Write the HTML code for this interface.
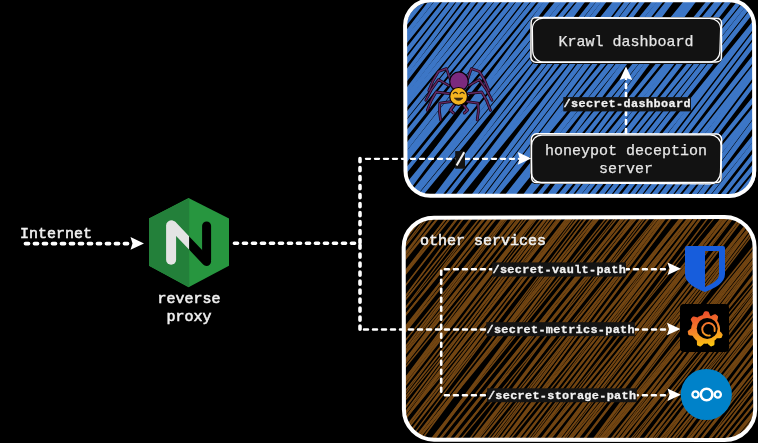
<!DOCTYPE html>
<html><head><meta charset="utf-8"><style>
html,body{margin:0;padding:0;background:#000;width:758px;height:443px;overflow:hidden}
</style></head><body>
<svg width="758" height="443" viewBox="0 0 758 443" style="display:block;will-change:transform"><defs><clipPath id="cb"><path d="M431.5,2.0 L728.5,2.0 C742.3,2.0 753.5,13.2 753.5,27.0 L753.5,170.3 C753.5,184.1 742.3,195.3 728.5,195.3 L431.5,195.3 C417.7,195.3 406.5,184.1 406.5,170.3 L406.5,27.0 C406.5,13.2 417.7,2.0 431.5,2.0 Z"/></clipPath><clipPath id="cr"><path d="M435.3,217.8 L723.5,217.8 C740.1,217.8 753.5,231.2 753.5,247.8 L753.5,409.0 C753.5,425.6 740.1,439.0 723.5,439.0 L435.3,439.0 C418.7,439.0 405.3,425.6 405.3,409.0 L405.3,247.8 C405.3,231.2 418.7,217.8 435.3,217.8 Z"/></clipPath><clipPath id="nl"><rect x="140" y="190" width="49.2" height="100"/></clipPath><clipPath id="nr"><rect x="189.2" y="190" width="50" height="100"/></clipPath><linearGradient id="gg" gradientUnits="userSpaceOnUse" x1="700" y1="312" x2="708" y2="348"><stop offset="0" stop-color="#EB4A2B"/><stop offset="0.5" stop-color="#F5852A"/><stop offset="1" stop-color="#FBCD0D"/></linearGradient></defs><rect width="758" height="443" fill="#000"/><g clip-path="url(#cb)" fill="none" stroke="#3c76c6" opacity="1.0"><path d="M282.6,132.3Q414.0,-33.7 546.4,-198.9M397.8,222.6Q532.2,59.1 667.1,-104.1M421.3,243.9Q549.3,75.3 676.1,-94.1M470.9,281.9Q601.2,115.1 731.9,-51.4M477.2,287.6Q610.9,123.5 743.6,-41.4M490.3,296.9Q620.8,130.2 750.1,-37.4M556.4,345.8Q683.7,176.6 811.1,7.5M573.5,363.8Q705.5,198.3 837.0,32.4" stroke-width="4.2"/><path d="M287.3,136.6Q418.2,-29.8 550.3,-195.2M291.2,135.7Q425.6,-27.8 559.3,-192.0M302.6,156.3Q428.4,-14.0 554.8,-183.8M329.7,176.4Q456.1,6.6 581.9,-163.7M354.1,188.0Q487.7,23.7 620.5,-141.1M409.3,233.3Q541.4,67.9 672.3,-98.5M414.3,237.6Q544.6,70.8 675.2,-95.8M531.5,327.4Q659.0,158.4 787.2,-10.1M553.2,348.5Q686.2,183.8 818.4,18.5M585.3,371.1Q715.9,204.5 845.8,37.4" stroke-width="4.1"/><path d="M296.1,141.7Q428.9,-23.1 561.5,-188.1M313.3,155.4Q446.0,-9.6 579.1,-174.2M344.6,179.3Q479.3,16.1 612.9,-148.2M385.9,218.0Q512.4,48.2 638.6,-121.8M431.6,251.8Q558.6,82.4 685.9,-86.7M462.4,275.8Q596.7,112.1 730.3,-52.1M596.4,385.6Q730.0,221.4 864.7,58.1" stroke-width="4.8"/><path d="M304.5,147.2Q437.7,-17.3 571.8,-181.2M310.5,158.2Q439.0,-10.0 568.7,-177.3M319.0,162.7Q450.0,-3.6 580.5,-170.3M338.6,182.1Q465.8,12.8 592.7,-156.6M369.1,201.8Q500.8,36.0 631.3,-130.7" stroke-width="4.4"/><path d="M323.9,167.8Q453.9,0.8 583.3,-166.8M435.6,254.6Q563.3,85.8 691.5,-82.7M514.2,315.7Q643.9,148.4 774.8,-17.9M535.9,330.7Q664.1,162.3 791.7,-6.6M541.8,337.6Q673.1,171.6 803.3,4.7" stroke-width="4.6"/><path d="M332.2,173.5Q463.0,7.0 593.1,-160.0M377.0,207.1Q509.2,41.8 641.8,-123.3M515.3,318.4Q648.0,153.4 781.4,-10.9" stroke-width="4.0"/><path d="M341.7,180.6Q472.4,14.0 603.1,-152.5M464.8,276.7Q591.8,107.3 718.4,-62.3M482.3,291.9Q615.9,127.7 749.1,-36.9M577.7,360.2Q703.6,190.1 829.7,20.0M609.9,388.7Q739.5,221.3 868.2,53.2" stroke-width="5.0"/><path d="M350.5,186.0Q482.1,20.2 614.9,-144.7M359.3,192.8Q491.3,27.3 624.3,-137.4M391.9,219.7Q523.3,53.7 654.4,-112.5M480.4,288.2Q607.2,118.7 732.8,-51.7M501.7,307.1Q634.7,142.3 766.6,-23.2M580.5,366.9Q710.2,199.6 840.2,32.6M589.2,378.8Q723.1,214.9 856.3,50.3M617.8,391.7Q745.0,222.5 872.1,53.1" stroke-width="4.5"/><path d="M365.4,199.8Q495.7,33.0 625.1,-134.5M385.4,212.7Q520.0,49.3 653.8,-114.8M451.7,266.9Q583.0,100.9 713.2,-66.0M495.2,300.8Q625.7,134.1 755.4,-33.2M551.9,342.0Q679.0,172.7 805.9,3.3M593.6,382.1Q727.2,217.9 860.4,53.4" stroke-width="5.1"/><path d="M371.7,202.3Q504.8,37.7 638.0,-126.9M394.1,219.9Q528.0,55.9 662.2,-107.8M444.6,261.5Q572.6,92.9 701.0,-75.4M442.6,259.6Q577.2,96.2 711.4,-67.5M453.6,268.5Q586.0,103.4 719.2,-61.2M496.6,303.2Q629.2,138.1 762.3,-26.4M573.2,357.1Q699.2,187.1 825.6,17.2M583.9,374.8Q718.0,211.0 851.4,46.6" stroke-width="4.3"/><path d="M407.9,234.0Q534.6,64.5 662.0,-104.6M420.8,241.9Q554.2,77.6 687.6,-86.8M508.9,311.8Q639.5,145.2 770.3,-21.2M525.9,323.5Q654.3,155.2 782.6,-13.2M536.9,333.9Q667.7,167.4 798.5,1.0" stroke-width="4.7"/><path d="M440.4,258.3Q568.4,89.7 695.6,-79.5" stroke-width="5.2"/><path d="M557.1,352.4Q689.9,187.6 823.7,23.6" stroke-width="4.9"/></g><path d="M430.3,0.2 L729.5,0.3 C743.3,0.3 754.1,11.8 754.1,25.6 L754.2,171.0 C754.2,184.8 743.3,195.9 729.5,195.9 L430.3,195.8 C416.5,195.8 405.5,184.8 405.5,171.0 L405.1,25.6 C405.1,11.8 416.5,0.2 430.3,0.2 Z" fill="none" stroke="#fff" stroke-width="4.0" stroke-linecap="round" stroke-linejoin="round"/><path d="M430.2,1.3 L729.9,0.9 C743.7,0.9 754.9,12.2 754.9,26.0 L755.3,170.9 C755.3,184.7 743.7,195.8 729.9,195.8 L430.2,195.9 C416.4,195.9 405.4,184.7 405.4,170.9 L405.7,26.0 C405.7,12.2 416.4,1.3 430.2,1.3 Z" fill="none" stroke="#fff" stroke-width="1.6" stroke-linecap="round" stroke-linejoin="round"/><g clip-path="url(#cr)" fill="none" stroke="#724512" opacity="1.0"><path d="M269.2,359.7Q408.3,188.6 548.5,18.3M286.5,374.9Q424.8,203.1 564.4,32.4M299.5,391.2Q433.3,215.9 568.7,41.9M300.1,393.8Q433.2,217.9 566.2,42.0M301.1,385.7Q440.1,214.5 580.5,44.4M301.6,388.5Q439.9,216.7 577.4,44.3M308.9,394.3Q447.0,222.3 584.9,50.2M376.0,452.0Q508.1,275.5 639.4,98.3M379.3,452.8Q513.1,277.5 648.3,103.3M388.5,461.4Q519.3,283.9 651.6,107.4M385.5,456.9Q520.9,282.9 657.1,109.4M388.5,458.8Q525.4,286.0 661.5,112.4M396.8,465.4Q532.8,291.8 669.9,119.1M406.2,474.5Q538.3,297.9 669.8,120.9M419.9,483.3Q557.5,310.9 695.8,139.1M443.0,501.9Q577.4,327.0 711.4,151.8M459.7,514.8Q593.8,339.7 729.5,165.8M457.1,513.0Q594.1,340.2 731.8,167.9M510.3,551.8Q641.0,374.2 772.7,197.3M546.4,579.0Q678.8,402.6 809.9,225.3M554.2,585.6Q687.2,409.7 819.4,233.2M550.1,587.0Q687.9,414.8 824.7,241.8M566.4,596.2Q700.3,421.1 834.4,246.0M568.2,596.2Q700.7,419.9 833.5,243.8M563.0,600.4Q703.2,430.1 842.8,259.4M585.9,615.3Q722.6,442.3 860.2,269.9M594.4,623.8Q732.2,451.6 871.1,280.4" stroke-width="1.8"/><path d="M270.4,360.8Q410.2,190.3 549.4,19.3M292.5,388.1Q426.1,212.6 558.4,36.2M329.2,408.0Q468.8,237.4 609.7,67.7M373.4,450.0Q506.0,273.8 637.1,96.5M415.9,480.4Q551.7,306.7 689.1,134.1M418.9,482.0Q559.4,312.0 699.4,141.6M433.1,494.5Q565.7,318.2 698.8,142.4M431.2,492.5Q567.8,319.3 705.3,146.9M479.0,530.0Q614.4,355.9 750.8,182.6M487.0,535.0Q619.2,358.5 752.2,182.6M496.6,542.6Q629.5,366.6 763.4,191.3M502.3,547.0Q635.2,371.1 769.6,196.2M508.9,555.2Q647.7,383.8 786.4,212.4M518.7,561.9Q655.3,388.7 792.8,216.3M518.6,563.8Q658.6,393.5 798.3,222.8M571.6,607.5Q711.8,437.2 851.5,266.6M585.6,618.3Q724.3,446.8 864.6,276.6M588.8,619.5Q726.5,447.2 865.8,276.2M595.2,620.8Q731.0,447.1 866.9,273.4M593.1,621.0Q731.0,448.9 867.4,275.7M604.7,632.9Q743.9,461.9 882.4,290.3M611.7,634.5Q747.4,460.7 884.3,287.8M618.1,635.7Q751.5,460.1 885.9,285.3" stroke-width="1.9"/><path d="M272.8,365.1Q410.4,192.7 549.0,21.2M274.1,369.1Q411.1,196.3 546.7,22.3M314.8,403.6Q448.9,228.5 583.1,53.5M328.8,409.1Q468.3,238.3 606.8,66.7M354.5,429.6Q493.6,258.4 633.4,87.9M379.6,449.7Q520.5,280.0 660.0,109.2M405.4,472.1Q541.6,298.6 679.3,126.3M421.2,485.6Q554.1,309.6 685.5,132.5M446.6,504.6Q579.0,328.3 711.9,152.2M469.4,521.6Q600.8,344.5 732.6,167.7M472.1,525.5Q611.8,354.8 750.1,183.0M525.1,564.0Q658.3,388.2 791.2,212.3M554.9,587.3Q688.7,412.0 822.6,236.8M556.7,590.5Q693.0,417.1 827.9,242.6M563.7,592.4Q696.7,416.5 828.3,239.5M567.2,598.1Q702.5,424.0 837.5,249.6M574.7,600.1Q705.8,422.8 838.4,246.6M583.2,609.9Q717.2,434.7 852.4,260.4M581.1,612.6Q718.9,440.4 857.1,268.5M611.5,637.1Q749.0,464.7 887.6,293.1" stroke-width="1.4"/><path d="M276.1,367.8Q413.9,195.6 552.2,23.9M334.8,416.3Q471.4,243.1 608.3,70.3M350.9,431.7Q484.7,256.4 618.0,80.8M360.8,436.0Q498.6,263.9 636.4,91.7M397.1,464.8Q534.7,292.5 673.8,121.4M436.0,496.2Q574.1,324.3 710.7,151.2M449.6,507.1Q588.8,336.1 726.7,164.0M471.4,523.3Q603.4,346.6 736.3,170.6M581.7,612.3Q719.7,440.2 856.5,267.3" stroke-width="2.1"/><path d="M275.9,364.1Q416.2,194.0 556.4,23.8M307.5,395.9Q443.6,222.4 579.2,48.4M320.2,410.8Q451.2,233.4 583.2,56.7M341.3,419.7Q480.5,248.6 618.5,76.6M352.7,431.7Q487.4,257.1 623.2,83.3M359.6,440.2Q490.3,262.6 622.0,85.7M365.9,440.9Q503.1,268.3 639.3,94.8M397.4,464.5Q537.7,294.4 676.9,123.3M406.2,472.4Q543.4,299.7 681.7,128.0M410.0,475.2Q548.9,303.9 686.8,131.8M414.4,478.7Q552.2,306.6 691.5,135.6M430.1,492.3Q561.6,315.3 693.3,138.4M453.1,510.0Q591.0,337.8 729.8,166.4M466.3,519.7Q600.0,344.3 734.3,169.3M475.3,526.3Q608.1,350.2 741.0,174.2M486.0,534.0Q618.0,357.4 749.7,180.4M491.7,539.5Q626.6,365.1 761.7,190.8M500.5,546.7Q635.7,372.5 772.0,199.1M541.0,576.2Q673.4,399.8 807.4,224.6M581.0,615.2Q721.4,445.2 861.0,274.4M604.8,626.5Q739.3,451.7 874.0,277.2" stroke-width="1.5"/><path d="M279.3,374.0Q414.4,199.6 550.7,26.3M278.6,372.0Q414.9,198.6 551.9,25.8M320.4,410.6Q452.7,234.2 584.0,56.9M325.7,405.4Q465.7,235.0 605.8,64.7M336.7,416.7Q475.0,245.0 612.3,72.4M347.1,428.7Q480.8,253.3 614.7,78.0M367.0,444.9Q499.7,268.7 631.7,92.1M377.1,450.7Q512.0,276.2 647.7,102.4M411.0,476.7Q547.2,303.2 683.8,130.1M468.0,522.1Q607.0,350.9 745.6,179.3M490.2,537.7Q623.0,361.7 757.0,186.5M524.4,568.8Q663.9,398.0 804.6,228.2M547.3,581.0Q681.2,405.7 813.8,229.5" stroke-width="1.1"/><path d="M283.2,378.1Q418.5,203.9 553.2,29.4M290.4,377.9Q430.0,207.2 568.5,35.5M347.8,424.5Q486.7,253.1 626.1,82.3M359.6,436.1Q495.9,262.7 632.8,89.8M399.3,469.4Q530.5,292.1 662.5,115.5M450.0,507.1Q581.7,330.3 712.5,152.7M464.2,517.9Q596.6,341.6 730.3,166.2M482.6,533.1Q618.7,359.6 756.0,187.0M495.6,543.2Q632.2,370.0 768.3,196.5M510.4,552.0Q642.4,375.3 773.1,197.6M507.4,554.1Q646.0,382.5 785.4,211.7M507.7,553.7Q644.9,381.0 783.5,209.5M534.3,572.3Q669.7,398.1 803.6,222.9M535.0,577.4Q674.5,406.5 814.8,236.4" stroke-width="1.6"/><path d="M282.9,379.6Q416.4,204.1 550.5,29.0M288.4,385.4Q421.4,209.5 553.8,33.1M335.8,420.0Q469.4,244.6 603.4,69.4M337.0,417.1Q474.3,244.5 612.4,72.6M351.5,428.0Q489.5,256.0 628.3,84.7M361.2,438.4Q496.2,264.0 631.5,89.9M363.0,440.2Q497.2,265.2 632.2,90.8M383.8,456.3Q517.8,281.2 652.7,106.7M407.3,475.5Q538.0,297.9 669.7,121.0M414.5,478.5Q554.6,308.2 693.9,137.3M452.1,508.8Q584.4,332.3 717.4,156.4M451.0,508.2Q587.6,335.0 724.9,162.4M475.3,528.1Q614.4,357.0 753.5,185.9M488.3,536.4Q622.1,361.1 755.7,185.7M509.1,552.0Q642.0,376.0 775.4,200.3M509.8,556.0Q649.3,385.1 787.5,213.3M515.7,559.5Q652.9,386.8 789.8,214.0M526.3,566.8Q661.6,392.6 797.6,219.1M541.9,582.9Q682.1,412.7 821.6,241.9M551.4,589.1Q689.3,417.1 828.0,245.6M562.8,593.0Q696.1,417.3 829.9,242.0M560.2,597.6Q699.0,426.3 839.3,256.1M577.1,603.1Q710.5,427.5 842.8,251.0M602.0,629.3Q739.8,457.0 877.9,285.1M611.4,633.9Q747.0,460.0 883.6,286.9" stroke-width="2.0"/><path d="M295.0,388.6Q428.4,213.0 563.0,38.3M329.3,415.0Q463.2,239.8 597.2,64.6M370.6,442.8Q510.2,272.1 649.2,100.9M391.6,463.6Q523.3,286.7 655.4,110.1M394.5,464.0Q530.0,289.9 666.0,116.4M395.4,466.0Q528.6,290.2 661.1,113.9M422.7,485.2Q563.5,315.4 702.9,144.5M434.4,495.6Q566.7,319.1 698.1,142.0M434.6,495.5Q567.3,319.3 701.5,144.3M440.1,499.6Q576.6,326.3 712.7,152.8M445.0,503.4Q578.2,327.6 712.2,152.5M469.4,522.0Q603.7,347.1 736.7,171.2M484.6,533.3Q617.0,356.9 750.3,181.2M510.4,553.1Q643.4,377.2 777.2,201.9M529.1,570.1Q666.3,397.4 803.2,224.6M539.0,579.8Q678.1,408.6 817.1,237.4M551.2,583.6Q683.8,407.4 817.0,231.6M548.2,584.5Q684.0,410.7 820.7,237.6M585.5,610.1Q718.8,434.5 852.3,259.0M611.7,628.4Q744.0,451.9 876.2,275.4" stroke-width="1.3"/><path d="M295.5,384.9Q432.7,212.1 569.6,39.3M308.1,390.8Q448.5,220.7 588.4,50.3M314.7,401.2Q450.3,227.3 586.9,54.1M325.8,414.8Q457.5,237.9 589.1,60.9M434.0,494.6Q571.9,322.5 709.8,150.4M454.4,510.4Q586.1,333.5 716.9,155.9M461.0,515.3Q592.8,338.6 724.3,161.5M492.6,542.3Q631.3,370.8 771.3,200.4M522.9,561.8Q655.4,385.5 787.5,208.9M521.3,566.2Q661.1,395.7 801.2,225.3M529.4,571.2Q667.7,399.5 805.6,227.4M583.7,606.7Q714.8,429.3 847.1,252.9M601.5,623.9Q736.3,449.4 870.6,274.4M609.8,626.9Q741.3,449.8 874.2,273.8" stroke-width="1.2"/><path d="M308.8,400.0Q441.4,223.8 575.5,48.7M321.4,403.9Q459.9,232.2 598.2,60.4M344.3,427.4Q477.9,251.9 610.2,75.4M346.4,428.5Q479.2,252.4 613.4,77.3M368.9,443.8Q504.8,270.1 641.0,96.6M378.6,453.9Q509.9,276.7 642.4,100.4M379.1,452.0Q514.2,277.7 650.2,104.1M449.2,506.5Q581.2,329.9 713.7,153.6M461.3,516.3Q597.4,342.8 734.8,170.2M471.3,524.9Q610.8,354.1 750.2,183.3M490.6,538.8Q625.8,364.6 761.3,190.6M488.5,539.3Q628.1,368.6 768.6,198.6M530.9,567.1Q662.0,389.8 793.6,212.8M539.4,576.0Q674.1,401.4 808.3,226.4M566.8,603.2Q707.0,433.0 846.2,261.9M613.6,631.5Q746.8,455.8 880.5,280.4" stroke-width="1.7"/></g><path d="M434.0,217.7 L724.7,216.9 C741.3,216.9 754.6,230.7 754.6,247.3 L755.2,409.6 C755.2,426.2 741.3,439.9 724.7,439.9 L434.0,439.8 C417.4,439.8 403.9,426.2 403.9,409.6 L403.7,247.3 C403.7,230.7 417.4,217.7 434.0,217.7 Z" fill="none" stroke="#fff" stroke-width="4.0" stroke-linecap="round" stroke-linejoin="round"/><path d="M434.3,217.0 L724.5,216.8 C741.0,216.8 754.7,230.4 754.7,246.9 L754.9,409.6 C754.9,426.2 741.0,439.6 724.5,439.6 L434.3,439.7 C417.7,439.7 404.5,426.2 404.5,409.6 L404.2,246.9 C404.2,230.4 417.7,217.0 434.3,217.0 Z" fill="none" stroke="#fff" stroke-width="1.6" stroke-linecap="round" stroke-linejoin="round"/><path d="M536.0,17.0 L716.0,17.0 C719.3,17.0 722.0,19.7 722.0,23.0 L722.0,58.0 C722.0,61.3 719.3,64.0 716.0,64.0 L536.0,64.0 C532.7,64.0 530.0,61.3 530.0,58.0 L530.0,23.0 C530.0,19.7 532.7,17.0 536.0,17.0 Z" fill="#121212"/><path d="M535.9,17.6 L716.2,18.2 C719.0,18.2 721.5,19.9 721.5,22.7 L721.4,57.4 C721.4,60.1 719.0,62.0 716.2,62.0 L535.9,62.2 C533.2,62.2 530.9,60.1 530.9,57.4 L531.1,22.7 C531.1,19.9 533.2,17.6 535.9,17.6 Z" fill="none" stroke="#fff" stroke-width="1.5" stroke-linejoin="round"/><path d="M543.4,18.2 L709.6,18.5 C715.7,18.5 720.6,22.6 720.6,28.7 L719.9,50.9 C719.9,57.0 715.7,62.0 709.6,62.0 L543.4,62.0 C537.3,62.0 532.7,57.0 532.7,50.9 L532.4,28.7 C532.4,22.6 537.3,18.2 543.4,18.2 Z" fill="none" stroke="#fff" stroke-width="1.2" stroke-linejoin="round"/><path d="M536.0,134.0 L716.0,134.0 C719.3,134.0 722.0,136.7 722.0,140.0 L722.0,178.0 C722.0,181.3 719.3,184.0 716.0,184.0 L536.0,184.0 C532.7,184.0 530.0,181.3 530.0,178.0 L530.0,140.0 C530.0,136.7 532.7,134.0 536.0,134.0 Z" fill="#121212"/><path d="M536.4,133.7 L716.8,134.0 C719.5,134.0 721.6,136.6 721.6,139.4 L721.0,177.8 C721.0,180.5 719.5,182.6 716.8,182.6 L536.4,182.6 C533.7,182.6 531.7,180.5 531.7,177.8 L531.2,139.4 C531.2,136.6 533.7,133.7 536.4,133.7 Z" fill="none" stroke="#fff" stroke-width="1.5" stroke-linejoin="round"/><path d="M542.0,135.1 L710.0,134.8 C716.1,134.8 721.1,139.8 721.1,145.8 L720.5,172.1 C720.5,178.1 716.1,183.9 710.0,183.9 L542.0,182.8 C535.9,182.8 531.2,178.1 531.2,172.1 L531.6,145.8 C531.6,139.8 535.9,135.1 542.0,135.1 Z" fill="none" stroke="#fff" stroke-width="1.2" stroke-linejoin="round"/><text x="626" y="46" style="font-family:'Liberation Mono',monospace;font-size:15px;font-weight:normal" fill="#e6e6e6" stroke="#e6e6e6" stroke-width="0.25" text-anchor="middle">Krawl dashboard</text><text x="626" y="155" style="font-family:'Liberation Mono',monospace;font-size:15px;font-weight:normal" fill="#e6e6e6" stroke="#e6e6e6" stroke-width="0.25" text-anchor="middle">honeypot deception</text><text x="626" y="173" style="font-family:'Liberation Mono',monospace;font-size:15px;font-weight:normal" fill="#e6e6e6" stroke="#e6e6e6" stroke-width="0.25" text-anchor="middle">server</text><path d="M24,243.6 L131,243.6" fill="none" stroke="#fff" stroke-width="3.8" stroke-dasharray="2.96 6.04" stroke-dashoffset="-1.52" stroke-linecap="round"/><path d="M144,243.4 L130.5,237.1 L132.5,243.4 L130.5,249.70000000000002 Z" fill="#fff"/><path d="M233,243.3 L358,243.3" fill="none" stroke="#fff" stroke-width="3.6" stroke-dasharray="3.12 5.88" stroke-dashoffset="-1.44" stroke-linecap="round"/><path d="M360,157.2 L360,246" fill="none" stroke="#fff" stroke-width="3.6" stroke-dasharray="3.12 5.88" stroke-dashoffset="-1.44" stroke-linecap="round"/><path d="M360,243.6 L360,330" fill="none" stroke="#fff" stroke-width="3.6" stroke-dasharray="3.12 5.88" stroke-dashoffset="-1.44" stroke-linecap="round"/><path d="M365,158.8 L522,158.8" fill="none" stroke="#fff" stroke-width="2.3" stroke-dasharray="4.16 4.84" stroke-dashoffset="-0.92" stroke-linecap="round"/><path d="M531.2,158.4 L517.7,152.1 L519.7,158.4 L517.7,164.70000000000002 Z" fill="#fff"/><path d="M363,329.5 L670,329.5" fill="none" stroke="#fff" stroke-width="2.6" stroke-dasharray="3.92 5.08" stroke-dashoffset="-1.04" stroke-linecap="round"/><path d="M680.5,329 L667.0,322.7 L669.0,329 L667.0,335.3 Z" fill="#fff"/><path d="M626,134 L626,76" fill="none" stroke="#fff" stroke-width="2.6" stroke-dasharray="3.92 5.08" stroke-dashoffset="-1.04" stroke-linecap="round"/><path d="M626,66.5 L619.7,80.0 L626,78.0 L632.3,80.0 Z" fill="#fff"/><path d="M441.2,269.8 L441.2,395.5" fill="none" stroke="#fff" stroke-width="2.6" stroke-dasharray="3.92 5.08" stroke-dashoffset="-1.04" stroke-linecap="round"/><path d="M443.9,269.3 L669,269.3" fill="none" stroke="#fff" stroke-width="2.4" stroke-dasharray="4.08 4.92" stroke-dashoffset="-0.96" stroke-linecap="round"/><path d="M681,268.7 L667.5,262.4 L669.5,268.7 L667.5,275.0 Z" fill="#fff"/><path d="M443.9,395.2 L669,395.2" fill="none" stroke="#fff" stroke-width="2.4" stroke-dasharray="4.08 4.92" stroke-dashoffset="-0.96" stroke-linecap="round"/><path d="M681,394.8 L667.5,388.5 L669.5,394.8 L667.5,401.1 Z" fill="#fff"/><rect x="563.3" y="97.1" width="127.7" height="14.3" fill="#141414"/><text x="627.36" y="107.10" style="font-family:'Liberation Mono',monospace;font-size:11.8px;font-weight:bold;letter-spacing:0.42px" fill="#f2f2f2" stroke="#f2f2f2" stroke-width="0.3" text-anchor="middle">/secret-dashboard</text><rect x="455.2" y="151.1" width="9.8" height="17.6" fill="#141414"/><path d="M456.6,165.4 L464.2,152.2" stroke="#f2f2f2" stroke-width="2.1" stroke-linecap="butt"/><rect x="492.3" y="262.4" width="133.7" height="14.2" fill="#141414"/><text x="559.32" y="273.00" style="font-family:'Liberation Mono',monospace;font-size:11.8px;font-weight:bold;letter-spacing:0.34px" fill="#f2f2f2" stroke="#f2f2f2" stroke-width="0.3" text-anchor="middle">/secret-vault-path</text><rect x="486.3" y="322.2" width="148.5" height="14.0" fill="#141414"/><text x="560.72" y="332.60" style="font-family:'Liberation Mono',monospace;font-size:11.8px;font-weight:bold;letter-spacing:0.34px" fill="#f2f2f2" stroke="#f2f2f2" stroke-width="0.3" text-anchor="middle">/secret-metrics-path</text><rect x="487.1" y="388.3" width="149.7" height="13.9" fill="#141414"/><text x="562.12" y="398.60" style="font-family:'Liberation Mono',monospace;font-size:11.8px;font-weight:bold;letter-spacing:0.34px" fill="#f2f2f2" stroke="#f2f2f2" stroke-width="0.3" text-anchor="middle">/secret-storage-path</text><text x="20" y="238" style="font-family:'Liberation Mono',monospace;font-size:15px;font-weight:normal" fill="#f0f0f0" stroke="#f0f0f0" stroke-width="0.55" text-anchor="start">Internet</text><text x="420" y="245" style="font-family:'Liberation Mono',monospace;font-size:15px;font-weight:normal" fill="#f0f0f0" stroke="#f0f0f0" stroke-width="0.55" text-anchor="start">other services</text><text x="189" y="303" style="font-family:'Liberation Mono',monospace;font-size:15px;font-weight:normal" fill="#f0f0f0" stroke="#f0f0f0" stroke-width="0.55" text-anchor="middle">reverse</text><text x="189" y="321" style="font-family:'Liberation Mono',monospace;font-size:15px;font-weight:normal" fill="#f0f0f0" stroke="#f0f0f0" stroke-width="0.55" text-anchor="middle">proxy</text><path d="M188.5,198 L229,218.6 L229,265.8 L188.5,287.3 L149,265.8 L149,218.6 Z" fill="#27963F"/><path d="M189.2,198.3 L149,218.6 L149,265.8 L189.2,287 Z" fill="#23803A"/><g clip-path="url(#nl)"><path d="M172,225 L206.5,261.3" stroke="#e4e4e4" stroke-width="9.2" stroke-linecap="round"/><path d="M171.1,225.6 L171.1,259.7" stroke="#e4e4e4" stroke-width="10" stroke-linecap="round"/></g><g clip-path="url(#nr)"><path d="M172,225 L206.5,261.3" stroke="#000" stroke-width="9.2" stroke-linecap="round"/><path d="M206.6,226 L206.6,259.5" stroke="#000" stroke-width="9" stroke-linecap="round"/></g><path fill-rule="evenodd" fill="#175DDC" d="M687,246 H723 Q725,246 725,248 V274 C725,283 715,288 705,292 C695,288 685,283 685,274 V248 Q685,246 687,246 Z M705,251 H719 V274 C719,280 712,284 705,287 Z"/><rect x="680" y="304" width="49" height="48" rx="4" fill="#000"/><path d="M690.0,329.3 L690.8,328.8 L691.2,328.3 L691.3,327.8 L691.3,327.3 L691.4,326.8 L691.5,326.3 L691.6,325.8 L691.8,325.3 L691.9,324.9 L692.1,324.4 L692.2,323.9 L692.4,323.4 L692.3,322.8 L691.8,322.0 L691.4,321.1 L691.0,320.2 L690.7,319.2 L691.0,318.7 L691.4,318.2 L691.8,317.7 L692.2,317.3 L692.7,316.8 L693.1,316.4 L694.1,316.5 L695.1,316.7 L696.0,317.0 L696.9,317.3 L697.5,317.4 L698.0,317.1 L698.4,316.8 L698.8,316.6 L699.3,316.4 L699.7,316.1 L700.2,315.9 L700.7,315.8 L701.2,315.6 L701.6,315.5 L702.1,315.3 L702.6,315.2 L703.0,314.3 L703.4,313.5 L703.8,312.6 L704.4,311.7 L705.0,311.3 L705.6,311.3 L706.2,311.3 L706.9,311.3 L707.5,311.4 L708.1,311.5 L708.7,312.0 L709.1,312.9 L709.5,313.8 L709.8,314.7 L710.0,315.6 L710.5,315.8 L711.0,315.9 L711.6,315.8 L712.4,315.3 L713.3,314.8 L714.2,314.4 L715.1,314.0 L715.7,314.4 L716.2,314.7 L716.7,315.1 L717.2,315.5 L717.6,315.9 L718.1,316.4 L718.0,317.4 L717.8,318.3 L717.6,319.3 L717.3,320.2 L717.2,320.8 L717.5,321.2 L717.8,321.7 L718.1,322.1 L718.3,322.5 L718.5,323.0 L718.8,323.4 L719.0,323.9 L719.1,324.4 L719.3,324.9 L719.4,325.3 L719.6,325.8 L719.7,326.3 L719.8,326.8 L719.9,327.3 L719.9,327.8 L720.0,328.3 L720.0,328.8 L720.0,329.3 L720.0,329.8 L720.0,330.3 L719.9,330.8 L719.9,331.3 L720.6,331.9 L721.3,332.6 L721.9,333.4 L722.5,334.2 L722.7,334.9 L722.5,335.5 L722.3,336.0 L722.0,336.6 L721.8,337.2 L721.5,337.8 L720.8,338.1 L719.8,338.2 L718.9,338.2 L717.9,338.2 L716.9,338.2 L716.6,338.6 L716.3,338.9 L716.0,339.3 L715.6,339.7 L715.2,340.0 L714.9,340.3 L714.5,340.6 L714.5,341.6 L714.5,342.6 L714.5,343.5 L714.4,344.5 L714.1,345.2 L713.5,345.5 L712.9,345.7 L712.3,346.0 L711.8,346.2 L711.2,346.4 L710.5,346.2 L709.7,345.6 L708.9,345.0 L708.2,344.3 L707.6,343.6 L707.1,343.6 L706.6,343.7 L706.1,343.7 L705.6,343.7 L705.1,343.7 L704.6,343.7 L704.1,343.6 L703.5,344.0 L702.9,344.7 L702.2,345.3 L701.4,346.0 L700.6,346.6 L700.0,346.4 L699.4,346.2 L698.9,346.0 L698.3,345.7 L697.7,345.5 L697.1,345.2 L697.0,344.2 L696.9,343.2 L696.9,342.2 L696.9,341.3 L696.7,340.6 L696.3,340.3 L696.0,340.0 L695.6,339.7 L695.2,339.3 L694.9,338.9 L694.6,338.6 L694.3,338.2 L694.0,337.8 L693.7,337.4 L693.4,336.9 L693.1,336.5 L692.9,336.1 L692.3,335.8 L691.3,335.6 L690.4,335.4 L689.4,335.2 L688.5,334.9 L688.3,334.3 L688.1,333.7 L688.0,333.0 L687.9,332.4 L687.8,331.8 L687.7,331.2 L688.4,330.5 L689.2,329.9 Z" fill="url(#gg)"/><circle cx="707.2" cy="328.4" r="10.5" fill="#000"/><path d="M714.6,331 A6.3,6.3 0 1 0 709.8,335.5" stroke="url(#gg)" stroke-width="1.9" fill="none" stroke-linecap="round"/><circle cx="706.3" cy="394.5" r="25.6" fill="#0082C9"/><circle cx="706.6" cy="394.5" r="5.8" fill="none" stroke="#fff" stroke-width="2.6"/><circle cx="695.5" cy="394.5" r="3.1" fill="none" stroke="#fff" stroke-width="2.3"/><circle cx="717.8" cy="394.5" r="3.1" fill="none" stroke="#fff" stroke-width="2.3"/><path d="M467.7,79.0 L471.4,68.6 L479.4,71.5 Q485.5,80.4 489.0,90.6 M450.1,79.0 L446.4,68.6 L438.4,71.5 Q432.3,80.4 428.8,90.6  M469.0,85.5 L479.4,79.6 Q487.0,89.1 492.0,100.2 M448.8,85.5 L438.4,79.6 Q430.8,89.1 425.8,100.2  M468.4,93.6 L481.7,92.0 Q487.5,100.6 490.5,110.4 M449.4,93.6 L436.1,92.0 Q430.3,100.6 427.3,110.4  M467.0,101.6 L478.0,103.1 Q479.1,111.6 477.2,120.0 M450.8,101.6 L439.8,103.1 Q438.7,111.6 440.6,120.0 " fill="none" stroke="#160616" stroke-width="2.8" stroke-linejoin="round" stroke-linecap="round"/><path d="M467.7,79.0 L471.4,68.6 L479.4,71.5 Q485.5,80.4 489.0,90.6 M450.1,79.0 L446.4,68.6 L438.4,71.5 Q432.3,80.4 428.8,90.6  M469.0,85.5 L479.4,79.6 Q487.0,89.1 492.0,100.2 M448.8,85.5 L438.4,79.6 Q430.8,89.1 425.8,100.2  M468.4,93.6 L481.7,92.0 Q487.5,100.6 490.5,110.4 M449.4,93.6 L436.1,92.0 Q430.3,100.6 427.3,110.4  M467.0,101.6 L478.0,103.1 Q479.1,111.6 477.2,120.0 M450.8,101.6 L439.8,103.1 Q438.7,111.6 440.6,120.0 " fill="none" stroke="#662a64" stroke-width="1.4" stroke-linejoin="round" stroke-linecap="round"/><path d="M453.8,105.5 L450.2,110.2 L453.5,113 M464,105.5 L467.6,110.2 L464.3,113" fill="none" stroke="#160616" stroke-width="3.0" stroke-linecap="round" stroke-linejoin="round"/><path d="M453.8,105.5 L450.2,110.2 L453.5,113 M464,105.5 L467.6,110.2 L464.3,113" fill="none" stroke="#70306c" stroke-width="1.5" stroke-linecap="round" stroke-linejoin="round"/><ellipse cx="459" cy="81.5" rx="9.3" ry="9.6" fill="#7B2A7E" stroke="#0a020a" stroke-width="1.2"/><circle cx="458.6" cy="96.4" r="8.9" fill="#F4B41F" stroke="#0a020a" stroke-width="1.2"/><path d="M453.3,93.6 Q455.4,91.2 457.5,93.6 M460,93.6 Q462.1,91.2 464.2,93.6" stroke="#3a2a10" stroke-width="1.1" fill="none" stroke-linecap="round"/><path d="M454.2,98 Q458.6,103.2 463,98 Z" fill="#3a2a10" stroke="#3a2a10" stroke-width="0.6" stroke-linejoin="round"/></svg>
</body></html>
